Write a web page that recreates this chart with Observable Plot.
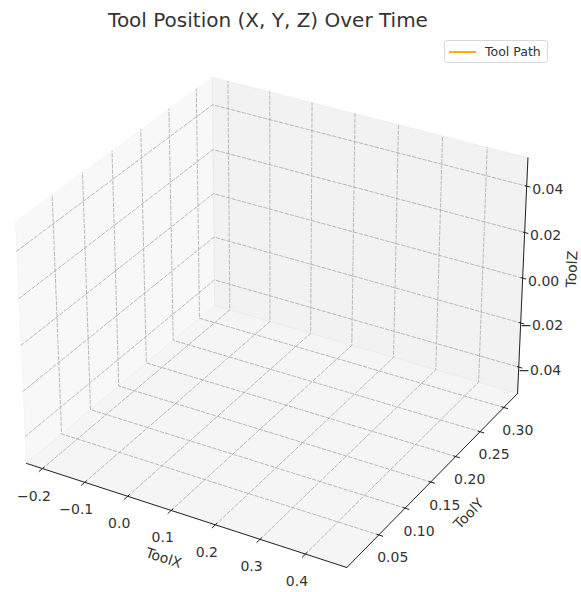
<!DOCTYPE html>
<html>
<head>
<meta charset="utf-8">
<script src="https://cdn.jsdelivr.net/npm/d3@7"></script>
<script src="https://cdn.jsdelivr.net/npm/@observablehq/plot@0.6"></script>
<style>
  body { margin: 0; background: #fff; }
  #wrap { position: relative; width: 581px; height: 592px; overflow: hidden; font-family: "DejaVu Sans", sans-serif; color: #333; }
  #title { position: absolute; left: 0; top: 10px; width: 536px; text-align: center; font-size: 20px; line-height: 20px; white-space: nowrap; }
  #legend { position: absolute; left: 444px; top: 40px; width: 102px; height: 21px; border: 1px solid #d9d9d9; border-radius: 3px; background: #fff; font-size: 12.5px; }
  #legend .sw { position: absolute; left: 4px; top: 9.5px; width: 27px; height: 2px; }
  #legend .lb { position: absolute; left: 40px; top: 3px; line-height: 15px; white-space: nowrap; }
  #chart { position: absolute; left: 0; top: 0; }
</style>
</head>
<body>
<div id="wrap">
  <div id="chart"></div>
  <div id="title"></div>
  <div id="legend"><div class="sw"></div><div class="lb"></div></div>
</div>
<script>
// ---------------- data ----------------
const chartTitle = "Tool Position (X, Y, Z) Over Time";
const seriesLabel = "Tool Path";
const seriesColor = "#ffb000";
// the tool path in the reference is empty (nothing plotted)
const toolX = [];
const toolY = [];
const toolZ = [];

const xTicks = [-0.2, -0.1, 0.0, 0.1, 0.2, 0.3, 0.4];
const xTickLabels = ["−0.2", "−0.1", "0.0", "0.1", "0.2", "0.3", "0.4"];
const yTicks = [0.05, 0.10, 0.15, 0.20, 0.25, 0.30];
const yTickLabels = ["0.05", "0.10", "0.15", "0.20", "0.25", "0.30"];
const zTicks = [-0.04, -0.02, 0.00, 0.02, 0.04];
const zTickLabels = ["−0.04", "−0.02", "0.00", "0.02", "0.04"];
const xLimits = [-0.238, 0.490];
const yLimits = [-0.009, 0.3295];
const zLimits = [-0.0521, 0.0521];
const axisNames = ["ToolX", "ToolY", "ToolZ"];

// ---------------- 3D projection (matplotlib-like view) ----------------
const W = 581, H = 592;
const elev = 30, azim = -60, dist = 10;
const viewScale = 3212, viewCx = 275.9, viewCy = 310.6;
const rad = Math.PI / 180;
const asp0 = [4, 4, 3];
const nA = Math.hypot(...asp0);
const asp = asp0.map(a => a * 1.8294640721620434 / nA);
const ps = [Math.cos(elev * rad) * Math.cos(azim * rad), Math.cos(elev * rad) * Math.sin(azim * rad), Math.sin(elev * rad)];
const cross = (a, b) => [a[1] * b[2] - a[2] * b[1], a[2] * b[0] - a[0] * b[2], a[0] * b[1] - a[1] * b[0]];
const dot = (a, b) => a[0] * b[0] + a[1] * b[1] + a[2] * b[2];
let uu = cross([0, 0, 1], ps);
const un = Math.hypot(...uu);
uu = uu.map(c => c / un);
const vv = cross(ps, uu);
const lims = [xLimits, yLimits, zLimits];
function proj(p) {
  const q = p.map((c, i) => (c - lims[i][0]) / (lims[i][1] - lims[i][0]) * asp[i] - asp[i] / 2);
  const den = dist - dot(ps, q);
  return {px: dot(uu, q) / den, py: dot(vv, q) / den};
}
const [x0, x1] = xLimits, [y0, y1] = yLimits, [z0, z1] = zLimits;
const dX = (x1 - x0) / 12, dY = (y1 - y0) / 12;

function poly(points, id, extra = {}) {
  return points.map(p => ({...proj(p), id, ...extra}));
}

// panes
const panes = [
  {id: "xpane", fill: "rgb(242,242,242)", pts: [[x0, y0, z0], [x0, y1, z0], [x0, y1, z1], [x0, y0, z1], [x0, y0, z0]]},
  {id: "ypane", fill: "rgb(230,230,230)", pts: [[x0, y1, z0], [x1, y1, z0], [x1, y1, z1], [x0, y1, z1], [x0, y1, z0]]},
  {id: "zpane", fill: "rgb(236,236,236)", pts: [[x0, y0, z0], [x1, y0, z0], [x1, y1, z0], [x0, y1, z0], [x0, y0, z0]]}
];

// grid lines
const grid = [];
xTicks.forEach((x, i) => grid.push(...poly([[x, y0, z0], [x, y1, z0], [x, y1, z1]], "gx" + i)));
yTicks.forEach((y, i) => grid.push(...poly([[x1, y, z0], [x0, y, z0], [x0, y, z1]], "gy" + i)));
zTicks.forEach((z, i) => grid.push(...poly([[x0, y0, z], [x0, y1, z], [x1, y1, z]], "gz" + i)));

// axis lines
const axes = [
  ...poly([[x0, y0, z0], [x1, y0, z0]], "ax"),
  ...poly([[x1, y0, z0], [x1, y1, z0]], "ay"),
  ...poly([[x1, y1, z0], [x1, y1, z1]], "az")
];

// tick marks
const ticks = [];
xTicks.forEach((x, i) => ticks.push(...poly([[x, y0 - 0.2 * dY, z0], [x, y0 + 0.1 * dY, z0]], "tx" + i)));
yTicks.forEach((y, i) => ticks.push(...poly([[x1 + 0.14 * dX, y, z0], [x1 - 0.07 * dX, y, z0]], "ty" + i)));
zTicks.forEach((z, i) => ticks.push(...poly([[x1 + 0.12 * dX, y1, z], [x1 - 0.06 * dX, y1, z]], "tz" + i)));

// tick labels
const xLab = xTicks.map((x, i) => ({...proj([x, y0, z0]), text: xTickLabels[i]}));
const yLab = yTicks.map((y, i) => ({...proj([x1, y, z0]), text: yTickLabels[i]}));
const zLab = zTicks.map((z, i) => ({...proj([x1, y1, z]), text: zTickLabels[i]}));

// axis titles
function screen(p) { const r = proj(p); return [viewCx + r.px * viewScale, viewCy - r.py * viewScale]; }
function angle(a, b) { const A = screen(a), B = screen(b); return Math.atan2(B[1] - A[1], B[0] - A[0]) / rad; }
const titles = [
  {...proj([(x0 + x1) / 2, y0, z0]), text: axisNames[0], rot: angle([x0, y0, z0], [x1, y0, z0]), dx: -19, dy: 44},
  {...proj([x1, (y0 + y1) / 2, z0]), text: axisNames[1], rot: angle([x1, y0, z0], [x1, y1, z0]), dx: 33, dy: 37},
  {...proj([x1, y1, (z0 + z1) / 2]), text: axisNames[2], rot: angle([x1, y1, z0], [x1, y1, z1]), dx: 49.5, dy: -9}
];

// tool path (empty)
const path = toolX.map((x, i) => ({...proj([x, toolY[i], toolZ[i]])}));

const textColor = "#333";
const chart = Plot.plot({
  width: W,
  height: H,
  margin: 0,
  x: {domain: [-viewCx / viewScale, (W - viewCx) / viewScale], range: [0, W], axis: null},
  y: {domain: [(viewCy - H) / viewScale, viewCy / viewScale], range: [H, 0], axis: null},
  style: {fontFamily: "DejaVu Sans, sans-serif", fontSize: "14px", background: "white", overflow: "visible"},
  marks: [
    ...panes.map(pn => Plot.line(pn.pts.map(p => proj(p)), {x: "px", y: "py", fill: pn.fill, fillOpacity: 0.5, stroke: pn.fill, strokeOpacity: 0.5, strokeWidth: 1})),
    Plot.line(grid, {x: "px", y: "py", z: "id", stroke: "#aaaaaa", strokeWidth: 0.8, strokeDasharray: "3.5,2"}),
    Plot.line(axes, {x: "px", y: "py", z: "id", stroke: "#222", strokeWidth: 1}),
    Plot.line(ticks, {x: "px", y: "py", z: "id", stroke: "#222", strokeWidth: 1}),
    Plot.line(path, {x: "px", y: "py", stroke: seriesColor, strokeWidth: 1.5}),
    Plot.text(xLab, {x: "px", y: "py", text: "text", dx: -8.5, dy: 27.5, fill: textColor, fontSize: 14}),
    Plot.text(yLab, {x: "px", y: "py", text: "text", dx: 14, dy: 23, fill: textColor, fontSize: 14}),
    Plot.text(zLab, {x: "px", y: "py", text: "text", dx: 21, dy: 3, fill: textColor, fontSize: 14}),
    ...titles.map(t => Plot.text([t], {x: "px", y: "py", text: "text", rotate: t.rot, dx: t.dx, dy: t.dy, fill: textColor, fontSize: 14}))
  ]
});
document.getElementById("chart").appendChild(chart);
document.getElementById("title").textContent = chartTitle;
document.querySelector("#legend .lb").textContent = seriesLabel;
document.querySelector("#legend .sw").style.background = seriesColor;
</script>
</body>
</html>
